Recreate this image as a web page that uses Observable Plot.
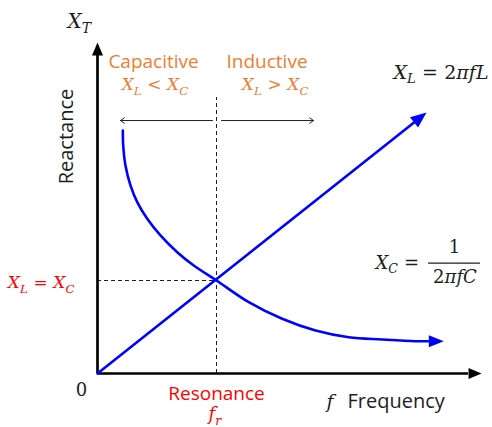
<!DOCTYPE html>
<html>
<head>
<meta charset="utf-8">
<script src="https://cdn.jsdelivr.net/npm/d3@7"></script>
<script src="https://cdn.jsdelivr.net/npm/@observablehq/plot@0.6"></script>
<style>
  body { margin: 0; background: #fff; }
</style>
</head>
<body>
<div id="chart"></div>
<script>
// Reactance against frequency, both in units of the resonance point:
// f / f_r on x, X / X(f_r) on y.
const inductiveF = [0, 2.66];
const inductiveX = [0, 2.70];
const capacitiveF = [0.213, 0.216, 0.235, 0.277, 0.334, 0.418, 0.529, 0.670, 0.809, 1.0, 1.271, 1.552, 1.832, 2.112, 2.392, 2.672, 2.784];
const capacitiveX = [2.613, 2.452, 2.237, 2.022, 1.842, 1.663, 1.484, 1.304, 1.161, 1.0, 0.767, 0.588, 0.462, 0.390, 0.366, 0.347, 0.347];
const resonanceF = 1;
const resonanceX = 1;

// Extents of the drawn axes (the arrowheads sit beyond these)
const fAxisEnd = 3.118;
const xAxisEnd = 3.419;
const guideTop = 2.968;

// Text
const regionNames = ["Capacitive", "Inductive"];
const regionRules = ["X_L < X_C", "X_L > X_C"];
const inductiveFormula = "X_L = 2πfL";
const capacitiveLhs = "X_C =";
const capacitiveNum = "1";
const capacitiveDen = "2πfC";
const equalityLabel = "X_L = X_C";
const yTitle = "Reactance";
const ySymbol = "X_T";
const xTitle = "Frequency";
const xSymbol = "f";
const resonanceName = "Resonance";
const resonanceSymbol = "f_r";
const originLabel = "0";

const BLUE = "#0000ff";
const ORANGE = "#ED7D31";
const RED = "#ff0000";
const INK = "#1e1e1e";
const SANS = "'Open Sans', sans-serif";
const SERIF = "'DejaVu Serif', serif";

const xScale = {domain: [0, 1], range: [97, 216]};
const yScale = {domain: [0, 1], range: [373, 280]};
const px = d3.scaleLinear(xScale.domain, xScale.range);
const py = d3.scaleLinear(yScale.domain, yScale.range);

const inductive = inductiveF.map((f, i) => ({f, X: inductiveX[i]}));
const capacitive = capacitiveF.map((f, i) => ({f, X: capacitiveX[i]}));

// Filled triangular arrowhead as a symbol: base centred on the point,
// tip pointing along `angle` (screen radians).
function head(angle, len, half) {
  const c = Math.cos(angle), s = Math.sin(angle);
  return {
    draw(ctx) {
      ctx.moveTo(len * c, len * s);
      ctx.lineTo(-half * s, half * c);
      ctx.lineTo(half * s, -half * c);
      ctx.closePath();
    }
  };
}
function screenAngle(a, b) {
  return Math.atan2(py(b.X) - py(a.X), px(b.f) - px(a.f));
}
const last = (arr, k = 1) => arr[arr.length - k];

const inductiveHead = head(screenAngle(inductive[0], last(inductive)), 16, 6.5);
const capacitiveHead = head(screenAngle(last(capacitive, 2), last(capacitive)), 15, 6);

const math = {ariaDescription: "math", fontFamily: SERIF, lineAnchor: "bottom", text: d => d};
const label = {fontFamily: SANS, lineAnchor: "bottom", text: d => d};

const plot = Plot.plot({
  width: 492,
  height: 427,
  margin: 0,
  x: {...xScale, axis: null},
  y: {...yScale, axis: null},
  marks: [
    // resonance guides
    Plot.ruleX([resonanceF], {y1: 0, y2: guideTop, stroke: INK, strokeWidth: 1, strokeDasharray: "4,3"}),
    Plot.ruleY([resonanceX], {x1: 0, x2: resonanceF, stroke: INK, strokeWidth: 1, strokeDasharray: "4,3"}),

    // axes
    Plot.ruleY([0], {x1: 0, x2: fAxisEnd, stroke: "#000", strokeWidth: 2.7}),
    Plot.ruleX([0], {y1: 0, y2: xAxisEnd, stroke: "#000", strokeWidth: 2.7}),
    Plot.dot([{f: fAxisEnd, X: 0}], {x: "f", y: "X", symbol: head(0, 13, 5.5), fill: "#000", stroke: null}),
    Plot.dot([{f: 0, X: xAxisEnd}], {x: "f", y: "X", symbol: head(-Math.PI / 2, 13, 5.5), fill: "#000", stroke: null}),

    // region arrows
    Plot.arrow([
      {x1: 0.966, x2: 0.193},
      {x1: 1.042, x2: 1.815}
    ], {x1: "x1", x2: "x2", y1: 2.72, y2: 2.72, stroke: INK, strokeWidth: 1, headLength: 7, headAngle: 70}),

    // X_L and X_C
    Plot.line(inductive, {x: "f", y: "X", stroke: BLUE, strokeWidth: 2.6}),
    Plot.dot([last(inductive)], {x: "f", y: "X", symbol: inductiveHead, fill: BLUE, stroke: null}),
    Plot.line(capacitive, {x: "f", y: "X", stroke: BLUE, strokeWidth: 2.6, curve: "catmull-rom"}),
    Plot.dot([last(capacitive)], {x: "f", y: "X", symbol: capacitiveHead, fill: BLUE, stroke: null}),

    // region labels
    Plot.text([regionNames[0]], {...label, x: 0.471, y: 3.29, textAnchor: "middle", fill: ORANGE, fontSize: 19}),
    Plot.text([regionNames[1]], {...label, x: 1.084, y: 3.29, textAnchor: "start", fill: ORANGE, fontSize: 19}),
    Plot.text([regionRules[0]], {...math, x: 0.483, y: 3.045, textAnchor: "middle", fill: ORANGE, fontSize: 17}),
    Plot.text([regionRules[1]], {...math, x: 1.773, y: 3.045, textAnchor: "end", fill: ORANGE, fontSize: 17}),

    // formulas
    Plot.text([inductiveFormula], {...math, x: 3.286, y: 3.172, textAnchor: "end", fill: INK, fontSize: 19}),
    Plot.text([capacitiveLhs], {...math, x: 2.336, y: 1.129, textAnchor: "start", fill: INK, fontSize: 18}),
    Plot.text([capacitiveNum], {...math, x: 3.0, y: 1.301, textAnchor: "middle", fill: INK, fontSize: 18}),
    Plot.ruleY([1.186], {x1: 2.782, x2: 3.218, stroke: INK, strokeWidth: 1.2}),
    Plot.text([capacitiveDen], {...math, x: 3.004, y: 0.968, textAnchor: "middle", fill: INK, fontSize: 18}),

    // resonance labels
    Plot.text([equalityLabel], {...math, x: -0.193, y: 0.914, textAnchor: "end", fill: RED, fontSize: 17}),
    Plot.text([resonanceName], {...label, x: resonanceF, y: -0.28, textAnchor: "middle", fill: RED, fontSize: 19}),
    Plot.text([resonanceSymbol], {...math, x: 0.987, y: -0.505, textAnchor: "middle", fill: RED, fontSize: 18}),

    // axis titles
    Plot.text([ySymbol], {...math, x: -0.252, y: 3.72, textAnchor: "start", fill: INK, fontSize: 20}),
    Plot.text([yTitle], {...label, x: -0.21, y: 2.548, rotate: -90, textAnchor: "middle", fill: INK, fontSize: 20}),
    Plot.text([xSymbol], {...math, x: 1.924, y: -0.376, textAnchor: "start", fill: INK, fontSize: 19}),
    Plot.text([xTitle], {...label, x: 2.101, y: -0.376, textAnchor: "start", fill: INK, fontSize: 20}),
    Plot.text([originLabel], {x: -0.134, y: -0.237, text: d => d, textAnchor: "middle", lineAnchor: "bottom", fill: INK, fontSize: 18, fontFamily: SERIF})
  ]
});

document.getElementById("chart").appendChild(plot);

// Math labels: letters in italic, "_c" becomes a subscript c.
function typeset(svg) {
  d3.select(svg).selectAll('g[aria-description="math"] text').each(function () {
    const el = d3.select(this);
    const src = this.textContent;
    const fs = parseFloat(getComputedStyle(this).fontSize) || 18;
    const shift = fs * 0.25;
    el.text(null);
    let down = false;
    for (let i = 0; i < src.length; i++) {
      let ch = src[i], sub = false;
      if (ch === "_") { sub = true; ch = src[++i]; }
      if (ch === " ") ch = "\u2004";
      const t = el.append("tspan").text(ch);
      if (/[A-Za-zπ]/.test(ch)) t.attr("font-style", "italic");
      if (sub) t.attr("font-size", fs * 0.7);
      if (sub && !down) { t.attr("dy", shift); down = true; }
      else if (!sub && down) { t.attr("dy", -shift); down = false; }
    }
  });
}
typeset(plot);
</script>
</body>
</html>
